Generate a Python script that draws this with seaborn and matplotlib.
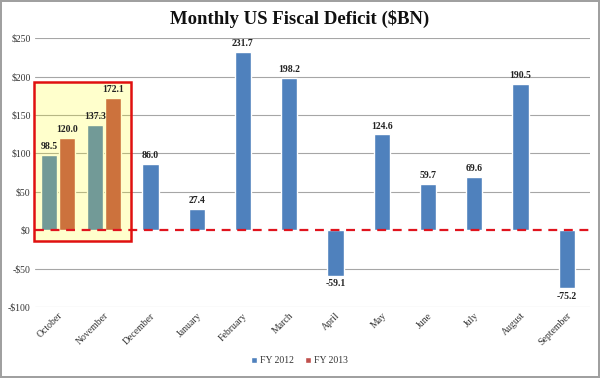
import matplotlib
matplotlib.use("Agg")
import matplotlib.pyplot as plt
from matplotlib.patches import Rectangle
import seaborn as sns
import pandas as pd

months = ["October", "November", "December", "January", "February", "March",
          "April", "May", "June", "July", "August", "September"]
fy2012 = [98.5, 137.3, 86.0, 27.4, 231.7, 198.2, -59.1, 124.6, 59.7, 69.6, 190.5, -75.2]
fy2013 = [120.0, 172.1]  # October, November only
series_names = ["FY 2012", "FY 2013"]
yticks = [-100, -50, 0, 50, 100, 150, 200, 250]
ytick_labels = ["-$100", "-$50", "$0", "$50", "$100", "$150", "$200", "$250"]

blue = "#4F81BD"
red = "#C0504D"
serif = ["Liberation Serif", "DejaVu Serif"]

sns.set_theme(style="white")
plt.rcParams["font.family"] = serif

n_pair = len(fy2013)
pair_df = pd.DataFrame({
    "month": months[:n_pair] * 2,
    "series": [series_names[0]] * n_pair + [series_names[1]] * n_pair,
    "value": fy2012[:n_pair] + fy2013,
})
single_df = pd.DataFrame({"month": months[n_pair:], "value": fy2012[n_pair:]})

fig = plt.figure(figsize=(6, 3.78), dpi=100)
fig.patch.set_edgecolor("#A0A0A0")
fig.patch.set_linewidth(1.5)
ax = fig.add_axes([0.058, 0.188, 0.925, 0.711])

sns.barplot(data=pair_df, x="month", y="value", hue="series", order=months,
            hue_order=series_names, palette=[blue, red], width=0.76, gap=0.1,
            saturation=1, ax=ax, zorder=3)
sns.barplot(data=single_df, x="month", y="value", order=months, color=blue,
            width=0.35, saturation=1, ax=ax, zorder=3)

ax.set_ylim(-100, 250)
ax.set_xlim(-0.5, len(months) - 0.5)
ax.set_yticks(yticks)
ax.set_yticklabels(ytick_labels, fontsize=7, color="#333333")
for y in yticks:
    if y != 0:
        ax.axhline(y, color="#A6A6A6", lw=0.8, zorder=1)
ax.axhline(0, color="#E0141E", lw=1.6, ls=(0, (4, 3)), zorder=5)

ax.set_xticks(range(len(months)))
ax.set_xticklabels(months, rotation=45, ha="right", rotation_mode="anchor",
                   fontsize=7, color="#333333")
ax.tick_params(axis="both", length=0, pad=3)
ax.set_xlabel("")
ax.set_ylabel("")
for s in ax.spines.values():
    s.set_visible(False)

# data labels
for p in ax.patches:
    h = p.get_height()
    if pd.isna(h) or p.get_width() == 0:
        continue
    xc = p.get_x() + p.get_width() / 2
    if h >= 0:
        ax.text(xc, h + 5, f"{h:.1f}", ha="center", va="bottom", fontsize=7,
                fontweight="bold", color="#222222", zorder=6)
    else:
        ax.text(xc, h - 5, f"{h:.1f}", ha="center", va="top", fontsize=7,
                fontweight="bold", color="#222222", zorder=6)

# highlight box around the FY2013 comparison
top = max(fy2013) + 21
bottom = -14
ax.add_patch(Rectangle((-0.52, bottom), n_pair + 0.1, top - bottom,
                       facecolor="#FFFF00", alpha=0.2, edgecolor="none",
                       zorder=4, clip_on=False))
ax.add_patch(Rectangle((-0.52, bottom), n_pair + 0.1, top - bottom,
                       facecolor="none", edgecolor="#E01010", lw=1.8,
                       zorder=7, clip_on=False))

leg = ax.legend(loc="lower center", bbox_to_anchor=(0.477, -0.25), ncol=2,
                frameon=False, fontsize=7, handlelength=0.6, handleheight=0.6,
                handletextpad=0.3, columnspacing=1.2)
for t in leg.get_texts():
    t.set_color("#333333")

fig.text(0.5, 0.95, "Monthly US Fiscal Deficit ($BN)", ha="center",
         va="center", fontsize=13.5, fontweight="bold", color="#111111")

fig.savefig("out.png", dpi=100)
